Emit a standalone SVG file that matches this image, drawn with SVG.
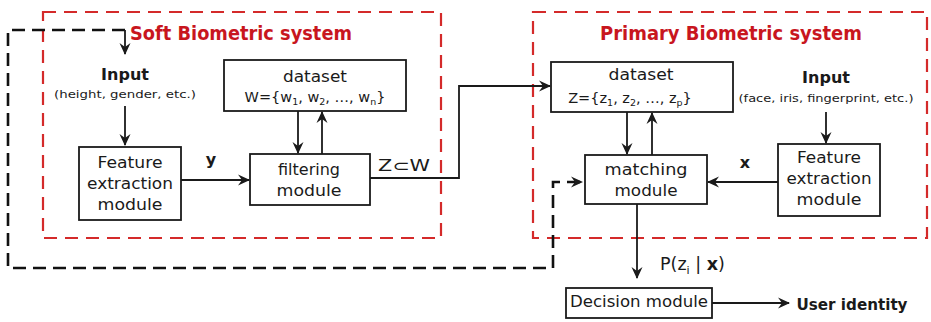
<svg xmlns="http://www.w3.org/2000/svg" width="931" height="322" viewBox="0 0 931 322">
  <style>
    .bg { fill: #ffffff; }
    .region { fill: none; stroke: #d42a2a; stroke-width: 2.2; stroke-dasharray: 13 8; }
    .title { font-family: "DejaVu Sans", "Liberation Sans", sans-serif; font-weight: bold; font-size: 19.5px; fill: #c8161e; text-anchor: middle; }
    .box { fill: #ffffff; stroke: #1a1a1a; stroke-width: 1.8; }
    .t { font-family: "DejaVu Sans", "Liberation Sans", sans-serif; font-size: 15px; fill: #1a1a1a; text-anchor: middle; }
    .small { font-family: "DejaVu Sans", "Liberation Sans", sans-serif; font-size: 11px; fill: #1a1a1a; text-anchor: middle; }
    .bold { font-family: "DejaVu Sans", "Liberation Sans", sans-serif; font-weight: bold; font-size: 16px; fill: #1a1a1a; text-anchor: middle; }
    .sub { font-size: 9.5px; }
    .line { fill: none; stroke: #1a1a1a; stroke-width: 1.8; }
    .feedback { fill: none; stroke: #111111; stroke-width: 2.6; stroke-dasharray: 13 7; }
  </style>
  <defs>
    <marker id="arrow" viewBox="0 0 12 12" refX="11" refY="6" markerWidth="12" markerHeight="12" markerUnits="userSpaceOnUse" orient="auto">
      <path d="M0,0.5 L12,6 L0,11.5 L4,6 z" fill="#1a1a1a"/>
    </marker>
  </defs>

  <rect class="bg" x="0" y="0" width="931" height="322"/>

  <!-- system regions -->
  <g id="soft-system">
    <rect class="region" x="43" y="12" width="398" height="226"/>
    <text class="title" x="241" y="40" textLength="222" lengthAdjust="spacingAndGlyphs">Soft Biometric system</text>
  </g>
  <g id="primary-system">
    <rect class="region" x="533" y="12" width="394" height="226"/>
    <text class="title" x="731" y="40" textLength="262" lengthAdjust="spacingAndGlyphs">Primary Biometric system</text>
  </g>

  <!-- connectors -->
  <g id="connectors">
    <path class="feedback" d="M125,30 H8 V268 H553 V182 H582" marker-end="url(#arrow)"/>
    <path class="line" d="M125,30 V54" marker-end="url(#arrow)"/>
    <path class="line" d="M125,106 V145" marker-end="url(#arrow)"/>
    <path class="line" d="M181,180 H249" marker-end="url(#arrow)"/>
    <path class="line" d="M298,111 V153" marker-end="url(#arrow)"/>
    <path class="line" d="M322,154 V112" marker-end="url(#arrow)"/>
    <path class="line" d="M370,178 H459 V86 H550" marker-end="url(#arrow)"/>
    <path class="line" d="M627,112 V154" marker-end="url(#arrow)"/>
    <path class="line" d="M652,155 V113" marker-end="url(#arrow)"/>
    <path class="line" d="M826,112 V143" marker-end="url(#arrow)"/>
    <path class="line" d="M778,182 H708" marker-end="url(#arrow)"/>
    <path class="line" d="M637,204 V278" marker-end="url(#arrow)"/>
    <path class="line" d="M712,303 H789" marker-end="url(#arrow)"/>
    <text class="bold" x="211" y="165">y</text>
    <text class="t" x="404" y="171" textLength="52" lengthAdjust="spacingAndGlyphs">Z⊂W</text>
    <text class="bold" x="745" y="168">x</text>
    <text class="t" x="660" y="270" style="text-anchor:start; font-size:17.5px">P(z<tspan style="font-size:11px" dy="4">i</tspan><tspan dy="-4"> | </tspan><tspan font-weight="bold">x</tspan>)</text>
  </g>

  <!-- soft biometric nodes -->
  <g id="soft-input">
    <text class="bold" x="125" y="80">Input</text>
    <text class="small" x="125" y="98" textLength="142" lengthAdjust="spacingAndGlyphs">(height, gender, etc.)</text>
  </g>
  <g id="soft-feature-extraction">
    <rect class="box" x="79" y="147" width="102" height="73"/>
    <text class="t" x="130" y="168" textLength="65" lengthAdjust="spacingAndGlyphs">Feature</text>
    <text class="t" x="130" y="189" textLength="86" lengthAdjust="spacingAndGlyphs">extraction</text>
    <text class="t" x="130" y="210" textLength="65" lengthAdjust="spacingAndGlyphs">module</text>
  </g>
  <g id="soft-dataset">
    <rect class="box" x="224" y="60" width="182" height="51"/>
    <text class="t" x="315" y="82" textLength="64" lengthAdjust="spacingAndGlyphs">dataset</text>
    <text class="t" x="315" y="102" style="font-size:14.5px">W={w<tspan class="sub" dy="3">1</tspan><tspan dy="-3">, w</tspan><tspan class="sub" dy="3">2</tspan><tspan dy="-3">, …, w</tspan><tspan class="sub" dy="3">n</tspan><tspan dy="-3">}</tspan></text>
  </g>
  <g id="filtering-module">
    <rect class="box" x="250" y="154" width="120" height="51"/>
    <text class="t" x="309" y="175" textLength="62" lengthAdjust="spacingAndGlyphs">filtering</text>
    <text class="t" x="309" y="196" textLength="65" lengthAdjust="spacingAndGlyphs">module</text>
  </g>

  <!-- primary biometric nodes -->
  <g id="primary-dataset">
    <rect class="box" x="551" y="62" width="182" height="50"/>
    <text class="t" x="641" y="80" textLength="65" lengthAdjust="spacingAndGlyphs">dataset</text>
    <text class="t" x="630" y="103" style="font-size:14.5px">Z={z<tspan class="sub" dy="3">1</tspan><tspan dy="-3">, z</tspan><tspan class="sub" dy="3">2</tspan><tspan dy="-3">, …, z</tspan><tspan class="sub" dy="3">p</tspan><tspan dy="-3">}</tspan></text>
  </g>
  <g id="primary-input">
    <text class="bold" x="826" y="83">Input</text>
    <text class="small" x="826" y="102" textLength="175" lengthAdjust="spacingAndGlyphs">(face, iris, fingerprint, etc.)</text>
  </g>
  <g id="primary-feature-extraction">
    <rect class="box" x="778" y="144" width="102" height="72"/>
    <text class="t" x="829" y="163" textLength="64" lengthAdjust="spacingAndGlyphs">Feature</text>
    <text class="t" x="829" y="184" textLength="85" lengthAdjust="spacingAndGlyphs">extraction</text>
    <text class="t" x="829" y="205" textLength="65" lengthAdjust="spacingAndGlyphs">module</text>
  </g>
  <g id="matching-module">
    <rect class="box" x="585" y="155" width="122" height="49"/>
    <text class="t" x="646" y="175" textLength="83" lengthAdjust="spacingAndGlyphs">matching</text>
    <text class="t" x="646" y="196" textLength="63" lengthAdjust="spacingAndGlyphs">module</text>
  </g>
  <g id="decision-module">
    <rect class="box" x="566" y="288" width="146" height="30"/>
    <text class="t" x="639" y="307" textLength="138" lengthAdjust="spacingAndGlyphs">Decision module</text>
  </g>
  <g id="user-identity">
    <text class="bold" x="852" y="310" textLength="111" lengthAdjust="spacingAndGlyphs">User identity</text>
  </g>
</svg>
